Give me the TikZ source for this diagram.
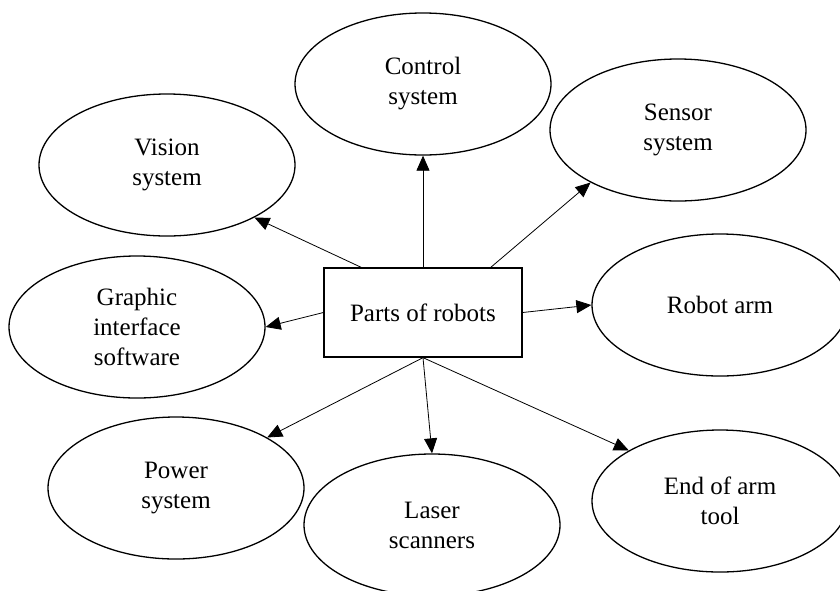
\documentclass[tikz,border=0pt]{standalone}
\usepackage{fontspec}
\setmainfont{Liberation Serif}
\usetikzlibrary{shapes.geometric,arrows.meta,calc}
\begin{document}
\begin{tikzpicture}[x=1pt,y=-1pt,
  part/.style={ellipse,draw,line width=1.3pt,minimum width=256pt,minimum height=142pt,inner sep=0pt,align=center,font=\fontsize{25}{30}\selectfont},
  hub/.style={rectangle,draw,line width=1.3pt,minimum width=198pt,minimum height=89pt,inner sep=0pt,font=\fontsize{25}{30}\selectfont},
  arr/.style={line width=0.8pt,-{Triangle[length=15pt,width=13pt]}}]
\useasboundingbox (0,0) rectangle (840,590);
\clip (0,0) rectangle (840,590);
\fill[white] (0,0) rectangle (840,590);
\node[hub] (r) at (423,312.5) {Parts of robots};
\node[part] (ctl) at (423,84) {Control\\system};
\node[part] (sen) at (678,130) {Sensor\\system};
\node[part] (vis) at (167,165) {Vision\\system};
\node[part] (gra) at (137,327) {Graphic\\interface\\software};
\node[part] (arm) at (720,305) {Robot arm};
\node[part] (pow) at (176,488) {Power\\system};
\node[part] (las) at (432,525) {Laser\\scanners};
\node[part] (eoa) at (720,501) {End of arm\\tool};
\coordinate (sv) at ($(r.north west)!0.19!(r.north east)$);
\coordinate (ss) at ($(r.north west)!0.84!(r.north east)$);
\draw[arr] (r.north) -- (ctl.south);
\draw[arr] (sv) -- (vis.329);
\draw[arr] (ss) -- (sen.211);
\draw[arr] (r.west) -- (gra.east);
\draw[arr] (r.east) -- (arm.west);
\draw[arr] (r.south) -- (pow.29);
\draw[arr] (r.south) -- (las.north);
\draw[arr] (r.south) -- (eoa.151);
\end{tikzpicture}
\end{document}
